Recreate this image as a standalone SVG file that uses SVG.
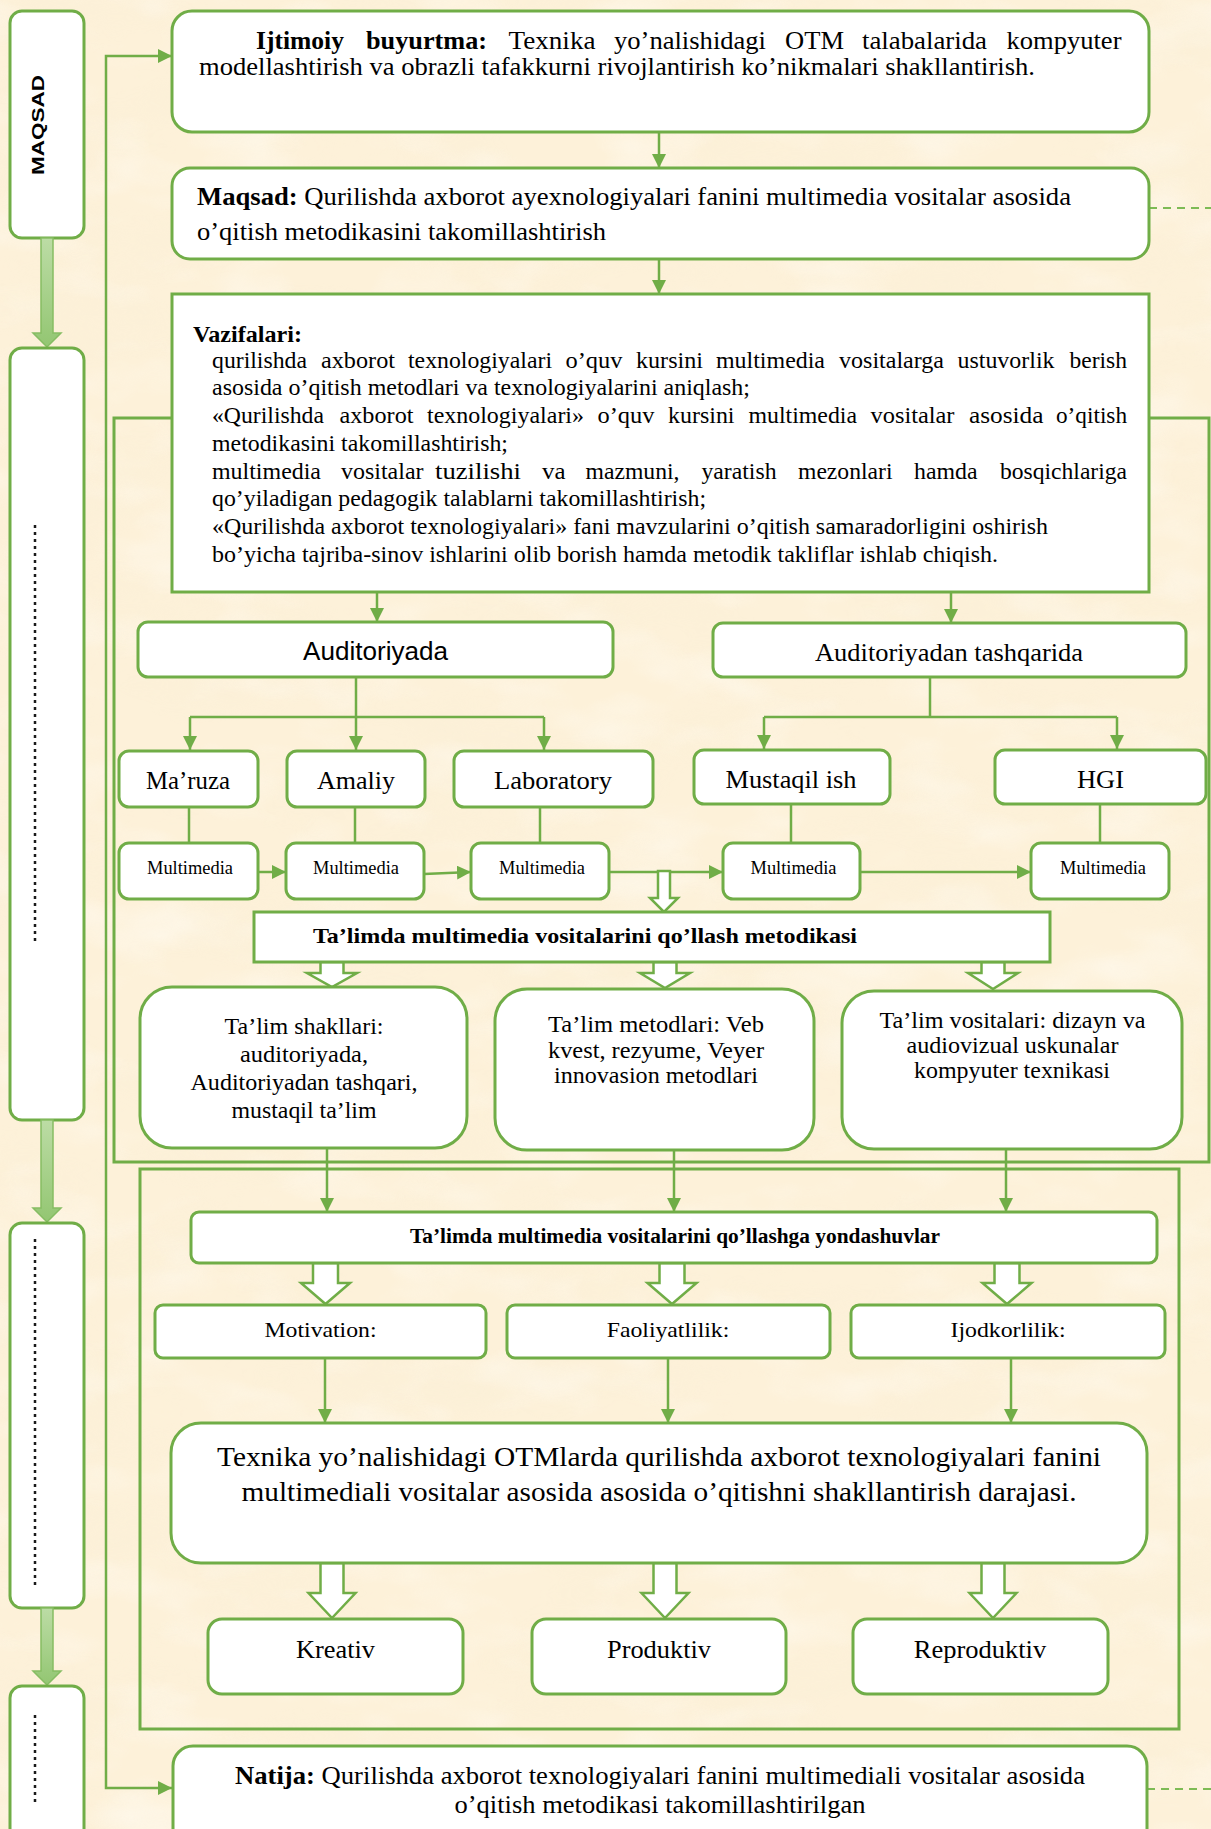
<svg xmlns="http://www.w3.org/2000/svg" width="1211" height="1829" viewBox="0 0 1211 1829">
  <defs>
    <style>
      .t { font-family: "Liberation Serif", "Times New Roman", serif; fill: #000; }
      .b { font-weight: bold; }
      .sans { font-family: "Liberation Sans", Arial, sans-serif; fill: #000; }
      .box { fill: #fff; stroke: #70ad47; stroke-width: 3; }
      .frame { fill: none; stroke: #70ad47; stroke-width: 3; }
      .ln { fill: none; stroke: #70ad47; stroke-width: 2.5; }
      .arr { fill: none; stroke: #70ad47; stroke-width: 2.5; marker-end: url(#ah); }
      .dash { fill: none; stroke: #7dbb55; stroke-width: 2; stroke-dasharray: 8 6; }
      .hollow { fill: #fff; stroke: #70ad47; stroke-width: 2.5; stroke-linejoin: miter; }
      .side { fill: url(#sideGrad); stroke: #86bd63; stroke-width: 1.5; }
      .dots { fill: none; stroke: #1a1a1a; stroke-width: 2.5; stroke-dasharray: 3 4; }
    </style>
    <marker id="ah" markerWidth="14" markerHeight="14" refX="14" refY="7" orient="auto" markerUnits="userSpaceOnUse">
      <path d="M0,0 L14,7 L0,14 Z" fill="#70ad47"/>
    </marker>
    <marker id="ahs" markerWidth="14" markerHeight="14" refX="14" refY="7" orient="auto-start-reverse" markerUnits="userSpaceOnUse">
      <path d="M0,0 L14,7 L0,14 Z" fill="#70ad47"/>
    </marker>
    <linearGradient id="sideGrad" x1="0" y1="0" x2="0" y2="1">
      <stop offset="0" stop-color="#bcdca5"/>
      <stop offset="1" stop-color="#93c672"/>
    </linearGradient>
    <filter id="paper" x="0" y="0" width="1211" height="1829" filterUnits="userSpaceOnUse">
      <feTurbulence type="fractalNoise" baseFrequency="0.006 0.014" numOctaves="4" seed="7"/>
      <feColorMatrix type="matrix" values="0 0 0 0 0.94  0 0 0 0 0.85  0 0 0 0 0.66  1.6 0 0 0 -0.72"/>
    </filter>
    <filter id="paperLight" x="0" y="0" width="1211" height="1829" filterUnits="userSpaceOnUse">
      <feTurbulence type="fractalNoise" baseFrequency="0.01 0.02" numOctaves="3" seed="21"/>
      <feColorMatrix type="matrix" values="0 0 0 0 1  0 0 0 0 0.98  0 0 0 0 0.93  1.8 0 0 0 -0.85"/>
    </filter>
  </defs>

  <!-- parchment background -->
  <rect width="1211" height="1829" fill="#fdf1d9"/>
  <rect width="1211" height="1829" filter="url(#paper)" opacity="0.45"/>
  <rect width="1211" height="1829" filter="url(#paperLight)" opacity="0.6"/>

  <!-- left stage column -->
  <g id="stage-column">
    <rect class="box" x="10" y="11" width="74" height="227" rx="12"/>
    <text class="sans b" transform="translate(44,125) rotate(-90)" text-anchor="middle" font-size="16" textLength="100" lengthAdjust="spacingAndGlyphs">MAQSAD</text>
    <path class="side" d="M41,238 H53 V333 H61 L47,347 L33,333 H41 Z"/>
    <rect class="box" x="10" y="348" width="74" height="772" rx="12"/>
    <path class="dots" d="M35,525 V945"/>
    <path class="side" d="M41,1120 H53 V1208 H61 L47,1222 L33,1208 H41 Z"/>
    <rect class="box" x="10" y="1223" width="74" height="385" rx="12"/>
    <path class="dots" d="M35,1239 V1589"/>
    <path class="side" d="M41,1608 H53 V1671 H61 L47,1685 L33,1671 H41 Z"/>
    <rect class="box" x="10" y="1686" width="74" height="170" rx="12"/>
    <path class="dots" d="M35,1715 V1802"/>
  </g>

  <!-- connectors and frames -->
  <g id="connectors">
    <rect class="frame" x="114" y="418" width="1095" height="744"/>
    <rect class="frame" x="140" y="1169" width="1039" height="560"/>
    <path class="ln" d="M172,56 H106 V1788 H172" marker-start="url(#ahs)" marker-end="url(#ah)"/>
    <path class="arr" d="M659,132 V168"/>
    <path class="arr" d="M659,259 V294"/>
    <path class="arr" d="M377,592 V622"/>
    <path class="arr" d="M951,592 V623"/>
    <path class="dash" d="M1149,208 H1211"/>
    <path class="dash" d="M1147,1789 H1211"/>
    <!-- Auditoriyada branches -->
    <path class="arr" d="M356,677 V750"/>
    <path class="ln" d="M190,717 H544"/>
    <path class="arr" d="M190,717 V750"/>
    <path class="arr" d="M544,717 V750"/>
    <!-- Auditoriyadan tashqarida branches -->
    <path class="ln" d="M930,677 V717"/>
    <path class="ln" d="M764,717 H1117"/>
    <path class="arr" d="M764,717 V749"/>
    <path class="arr" d="M1117,717 V749"/>
    <!-- stems to Multimedia -->
    <path class="ln" d="M189,807 V843"/>
    <path class="ln" d="M355,807 V843"/>
    <path class="ln" d="M540,807 V843"/>
    <path class="ln" d="M791,804 V843"/>
    <path class="ln" d="M1100,804 V843"/>
    <!-- Multimedia chain -->
    <path class="arr" d="M258,872 H286"/>
    <path class="arr" d="M424,874 L471,872"/>
    <path class="arr" d="M609,872 H723"/>
    <path class="arr" d="M860,872 H1031"/>
    <!-- hollow block arrows -->
    <path class="hollow" d="M658,871 H670 V898 H678 L664,912 L650,898 H658 Z"/>
    <path class="hollow" d="M320.5,962 H343.5 V973 H357 L332,987 L307,973 H320.5 Z"/>
    <path class="hollow" d="M653.5,962 H676.5 V973 H690 L665,988 L640,973 H653.5 Z"/>
    <path class="hollow" d="M981.5,962 H1004.5 V973 H1018 L993,989 L968,973 H981.5 Z"/>
    <path class="arr" d="M327,1148 V1212"/>
    <path class="arr" d="M674,1150 V1212"/>
    <path class="arr" d="M1006,1149 V1212"/>
    <path class="hollow" d="M313,1263 H338 V1283 H350 L325.5,1304 L301,1283 H313 Z"/>
    <path class="hollow" d="M659.5,1263 H684.5 V1283 H696.5 L672,1304 L647.5,1283 H659.5 Z"/>
    <path class="hollow" d="M994.5,1263 H1019.5 V1283 H1031.5 L1007,1304 L982.5,1283 H994.5 Z"/>
    <path class="arr" d="M325,1358 V1423"/>
    <path class="arr" d="M668,1358 V1423"/>
    <path class="arr" d="M1011,1358 V1423"/>
    <path class="hollow" d="M320.5,1563 H343.5 V1593 H355.5 L332,1618 L308.5,1593 H320.5 Z"/>
    <path class="hollow" d="M653.5,1563 H676.5 V1593 H688.5 L665,1618 L641.5,1593 H653.5 Z"/>
    <path class="hollow" d="M981.5,1563 H1004.5 V1593 H1016.5 L993,1618 L969.5,1593 H981.5 Z"/>
  </g>

  <!-- social order -->
  <g id="ijtimoiy">
    <rect class="box" x="172" y="11" width="977" height="121" rx="20"/>
    <g class="t" font-size="25">
      <text class="b" x="256" y="49" textLength="88" lengthAdjust="spacingAndGlyphs">Ijtimoiy</text>
      <text class="b" x="366" y="49" textLength="121" lengthAdjust="spacingAndGlyphs">buyurtma:</text>
      <text x="508.5" y="49" textLength="87" lengthAdjust="spacingAndGlyphs">Texnika</text>
      <text x="614" y="49" textLength="152" lengthAdjust="spacingAndGlyphs">yo’nalishidagi</text>
      <text x="785" y="49" textLength="59" lengthAdjust="spacingAndGlyphs">OTM</text>
      <text x="862" y="49" textLength="125" lengthAdjust="spacingAndGlyphs">talabalarida</text>
      <text x="1006.5" y="49" textLength="115" lengthAdjust="spacingAndGlyphs">kompyuter</text>
      <text x="199" y="75" textLength="836" lengthAdjust="spacingAndGlyphs">modellashtirish va obrazli tafakkurni rivojlantirish ko’nikmalari shakllantirish.</text>
    </g>
  </g>

  <!-- goal -->
  <g id="maqsad">
    <rect class="box" x="172" y="168" width="977" height="91" rx="18"/>
    <g class="t" font-size="25">
      <text x="197" y="205" textLength="874" lengthAdjust="spacingAndGlyphs"><tspan class="b">Maqsad:</tspan> Qurilishda axborot ayexnologiyalari fanini multimedia vositalar asosida</text>
      <text x="197" y="240" textLength="409" lengthAdjust="spacingAndGlyphs">o’qitish metodikasini takomillashtirish</text>
    </g>
  </g>

  <!-- tasks -->
  <g id="vazifalari">
    <rect class="box" x="172" y="294" width="977" height="298"/>
    <g class="t" font-size="23">
      <text class="b" x="193" y="342" font-size="24" textLength="109" lengthAdjust="spacingAndGlyphs">Vazifalari:</text>
      <text x="212" y="368" textLength="95" lengthAdjust="spacingAndGlyphs">qurilishda</text>
      <text x="321" y="368" textLength="74" lengthAdjust="spacingAndGlyphs">axborot</text>
      <text x="408" y="368" textLength="144" lengthAdjust="spacingAndGlyphs">texnologiyalari</text>
      <text x="565.5" y="368" textLength="57" lengthAdjust="spacingAndGlyphs">o’quv</text>
      <text x="636" y="368" textLength="67" lengthAdjust="spacingAndGlyphs">kursini</text>
      <text x="716" y="368" textLength="109" lengthAdjust="spacingAndGlyphs">multimedia</text>
      <text x="839" y="368" textLength="105" lengthAdjust="spacingAndGlyphs">vositalarga</text>
      <text x="957.5" y="368" textLength="97" lengthAdjust="spacingAndGlyphs">ustuvorlik</text>
      <text x="1069.5" y="368" textLength="57.5" lengthAdjust="spacingAndGlyphs">berish</text>
      <text x="212" y="395" textLength="538" lengthAdjust="spacingAndGlyphs">asosida o’qitish metodlari va texnologiyalarini aniqlash;</text>
      <text x="212" y="423" textLength="112" lengthAdjust="spacingAndGlyphs">«Qurilishda</text>
      <text x="339.5" y="423" textLength="74" lengthAdjust="spacingAndGlyphs">axborot</text>
      <text x="427" y="423" textLength="157" lengthAdjust="spacingAndGlyphs">texnologiyalari»</text>
      <text x="597.5" y="423" textLength="57" lengthAdjust="spacingAndGlyphs">o’quv</text>
      <text x="668" y="423" textLength="66.5" lengthAdjust="spacingAndGlyphs">kursini</text>
      <text x="748.5" y="423" textLength="108.5" lengthAdjust="spacingAndGlyphs">multimedia</text>
      <text x="870.5" y="423" textLength="84" lengthAdjust="spacingAndGlyphs">vositalar</text>
      <text x="969" y="423" textLength="74.5" lengthAdjust="spacingAndGlyphs">asosida</text>
      <text x="1056" y="423" textLength="71" lengthAdjust="spacingAndGlyphs">o’qitish</text>
      <text x="212" y="451" textLength="296" lengthAdjust="spacingAndGlyphs">metodikasini takomillashtirish;</text>
      <text x="212" y="479" textLength="109" lengthAdjust="spacingAndGlyphs">multimedia</text>
      <text x="341" y="479" textLength="82.5" lengthAdjust="spacingAndGlyphs">vositalar</text>
      <text x="435" y="479" textLength="86" lengthAdjust="spacingAndGlyphs">tuzilishi</text>
      <text x="542" y="479" textLength="23.5" lengthAdjust="spacingAndGlyphs">va</text>
      <text x="585.5" y="479" textLength="94" lengthAdjust="spacingAndGlyphs">mazmuni,</text>
      <text x="701.5" y="479" textLength="75" lengthAdjust="spacingAndGlyphs">yaratish</text>
      <text x="798" y="479" textLength="94.5" lengthAdjust="spacingAndGlyphs">mezonlari</text>
      <text x="914" y="479" textLength="63.5" lengthAdjust="spacingAndGlyphs">hamda</text>
      <text x="1000" y="479" textLength="127" lengthAdjust="spacingAndGlyphs">bosqichlariga</text>
      <text x="212" y="506" textLength="494" lengthAdjust="spacingAndGlyphs">qo’yiladigan pedagogik talablarni takomillashtirish;</text>
      <text x="212" y="534" textLength="836" lengthAdjust="spacingAndGlyphs">«Qurilishda axborot texnologiyalari» fani mavzularini o’qitish samaradorligini oshirish</text>
      <text x="212" y="562" textLength="786" lengthAdjust="spacingAndGlyphs">bo’yicha tajriba-sinov ishlarini olib borish hamda metodik takliflar ishlab chiqish.</text>
    </g>
  </g>

  <g id="auditoriyada">
    <rect class="box" x="138" y="622" width="475" height="55" rx="10"/>
    <text class="sans" x="375.5" y="660" font-size="25" text-anchor="middle" textLength="145" lengthAdjust="spacingAndGlyphs">Auditoriyada</text>
  </g>
  <g id="auditoriyadan-tashqarida">
    <rect class="box" x="713" y="623" width="473" height="54" rx="10"/>
    <text class="t" x="949" y="661" font-size="25" text-anchor="middle" textLength="268" lengthAdjust="spacingAndGlyphs">Auditoriyadan tashqarida</text>
  </g>

  <g id="maruza">
    <rect class="box" x="119" y="751" width="139" height="56" rx="10"/>
    <text class="t" x="188" y="789" font-size="25" text-anchor="middle" textLength="84" lengthAdjust="spacingAndGlyphs">Ma’ruza</text>
  </g>
  <g id="amaliy">
    <rect class="box" x="287" y="751" width="138" height="56" rx="10"/>
    <text class="t" x="356" y="789" font-size="25" text-anchor="middle" textLength="78" lengthAdjust="spacingAndGlyphs">Amaliy</text>
  </g>
  <g id="laboratory">
    <rect class="box" x="454" y="751" width="199" height="56" rx="10"/>
    <text class="t" x="553" y="789" font-size="25" text-anchor="middle" textLength="118" lengthAdjust="spacingAndGlyphs">Laboratory</text>
  </g>
  <g id="mustaqil-ish">
    <rect class="box" x="694" y="750" width="196" height="54" rx="10"/>
    <text class="t" x="791" y="788" font-size="25" text-anchor="middle" textLength="131" lengthAdjust="spacingAndGlyphs">Mustaqil ish</text>
  </g>
  <g id="hgi">
    <rect class="box" x="995" y="750" width="211" height="54" rx="10"/>
    <text class="t" x="1100.5" y="788" font-size="25" text-anchor="middle" textLength="47" lengthAdjust="spacingAndGlyphs">HGI</text>
  </g>

  <g id="multimedia-1">
    <rect class="box" x="119" y="843" width="139" height="56" rx="10"/>
    <text class="t" x="190" y="874" font-size="18" text-anchor="middle" textLength="86" lengthAdjust="spacingAndGlyphs">Multimedia</text>
  </g>
  <g id="multimedia-2">
    <rect class="box" x="286" y="843" width="138" height="56" rx="10"/>
    <text class="t" x="356" y="874" font-size="18" text-anchor="middle" textLength="86" lengthAdjust="spacingAndGlyphs">Multimedia</text>
  </g>
  <g id="multimedia-3">
    <rect class="box" x="471" y="843" width="138" height="56" rx="10"/>
    <text class="t" x="542" y="874" font-size="18" text-anchor="middle" textLength="86" lengthAdjust="spacingAndGlyphs">Multimedia</text>
  </g>
  <g id="multimedia-4">
    <rect class="box" x="723" y="843" width="137" height="56" rx="10"/>
    <text class="t" x="793.5" y="874" font-size="18" text-anchor="middle" textLength="86" lengthAdjust="spacingAndGlyphs">Multimedia</text>
  </g>
  <g id="multimedia-5">
    <rect class="box" x="1031" y="843" width="138" height="56" rx="10"/>
    <text class="t" x="1103" y="874" font-size="18" text-anchor="middle" textLength="86" lengthAdjust="spacingAndGlyphs">Multimedia</text>
  </g>

  <g id="metodika">
    <rect class="box" x="254" y="912" width="796" height="50"/>
    <text class="t b" x="313" y="943" font-size="22" textLength="544" lengthAdjust="spacingAndGlyphs">Ta’limda multimedia vositalarini qo’llash metodikasi</text>
  </g>

  <g id="talim-shakllari">
    <rect class="box" x="140" y="987" width="327" height="161" rx="32"/>
    <g class="t" font-size="24" text-anchor="middle">
      <text x="304" y="1034" textLength="159" lengthAdjust="spacingAndGlyphs">Ta’lim shakllari:</text>
      <text x="304" y="1062" textLength="128" lengthAdjust="spacingAndGlyphs">auditoriyada,</text>
      <text x="304" y="1090" textLength="227" lengthAdjust="spacingAndGlyphs">Auditoriyadan tashqari,</text>
      <text x="304" y="1118" textLength="145" lengthAdjust="spacingAndGlyphs">mustaqil ta’lim</text>
    </g>
  </g>
  <g id="talim-metodlari">
    <rect class="box" x="495" y="989" width="319" height="161" rx="32"/>
    <g class="t" font-size="24" text-anchor="middle">
      <text x="656" y="1032" textLength="216" lengthAdjust="spacingAndGlyphs">Ta’lim metodlari: Veb</text>
      <text x="656" y="1058" textLength="216" lengthAdjust="spacingAndGlyphs">kvest, rezyume, Veyer</text>
      <text x="656" y="1083" textLength="204" lengthAdjust="spacingAndGlyphs">innovasion metodlari</text>
    </g>
  </g>
  <g id="talim-vositalari">
    <rect class="box" x="842" y="991" width="340" height="158" rx="32"/>
    <g class="t" font-size="24" text-anchor="middle">
      <text x="1012.5" y="1028" textLength="266" lengthAdjust="spacingAndGlyphs">Ta’lim vositalari: dizayn va</text>
      <text x="1012.5" y="1053" textLength="212" lengthAdjust="spacingAndGlyphs">audiovizual uskunalar</text>
      <text x="1012" y="1078" textLength="196" lengthAdjust="spacingAndGlyphs">kompyuter texnikasi</text>
    </g>
  </g>

  <g id="yondashuvlar">
    <rect class="box" x="191" y="1212" width="966" height="51" rx="8"/>
    <text class="t b" x="675" y="1243" font-size="20" text-anchor="middle" textLength="530" lengthAdjust="spacingAndGlyphs">Ta’limda multimedia vositalarini qo’llashga yondashuvlar</text>
  </g>

  <g id="motivation">
    <rect class="box" x="155" y="1305" width="331" height="53" rx="8"/>
    <text class="t" x="320.5" y="1337" font-size="22" text-anchor="middle" textLength="112" lengthAdjust="spacingAndGlyphs">Motivation:</text>
  </g>
  <g id="faoliyatlilik">
    <rect class="box" x="507" y="1305" width="323" height="53" rx="8"/>
    <text class="t" x="668" y="1337" font-size="22" text-anchor="middle" textLength="122.5" lengthAdjust="spacingAndGlyphs">Faoliyatlilik:</text>
  </g>
  <g id="ijodkorlilik">
    <rect class="box" x="851" y="1305" width="314" height="53" rx="8"/>
    <text class="t" x="1008" y="1337" font-size="22" text-anchor="middle" textLength="115" lengthAdjust="spacingAndGlyphs">Ijodkorlilik:</text>
  </g>

  <g id="daraja">
    <rect class="box" x="171" y="1423" width="976" height="140" rx="30"/>
    <g class="t" font-size="28" text-anchor="middle">
      <text x="659" y="1466" textLength="884" lengthAdjust="spacingAndGlyphs">Texnika yo’nalishidagi OTMlarda qurilishda axborot texnologiyalari fanini</text>
      <text x="659" y="1501" textLength="835" lengthAdjust="spacingAndGlyphs">multimediali vositalar asosida asosida o’qitishni shakllantirish darajasi.</text>
    </g>
  </g>

  <g id="kreativ">
    <rect class="box" x="208" y="1619" width="255" height="75" rx="14"/>
    <text class="t" x="335.5" y="1658" font-size="25" text-anchor="middle" textLength="79" lengthAdjust="spacingAndGlyphs">Kreativ</text>
  </g>
  <g id="produktiv">
    <rect class="box" x="532" y="1619" width="254" height="75" rx="14"/>
    <text class="t" x="659" y="1658" font-size="25" text-anchor="middle" textLength="104" lengthAdjust="spacingAndGlyphs">Produktiv</text>
  </g>
  <g id="reproduktiv">
    <rect class="box" x="853" y="1619" width="255" height="75" rx="14"/>
    <text class="t" x="980" y="1658" font-size="25" text-anchor="middle" textLength="132.5" lengthAdjust="spacingAndGlyphs">Reproduktiv</text>
  </g>

  <g id="natija">
    <rect class="box" x="173" y="1746" width="974" height="120" rx="20"/>
    <g class="t" font-size="25" text-anchor="middle">
      <text x="660" y="1784" textLength="850" lengthAdjust="spacingAndGlyphs"><tspan class="b">Natija:</tspan> Qurilishda axborot texnologiyalari fanini multimediali vositalar asosida</text>
      <text x="660" y="1813" textLength="411" lengthAdjust="spacingAndGlyphs">o’qitish metodikasi takomillashtirilgan</text>
    </g>
  </g>
</svg>
